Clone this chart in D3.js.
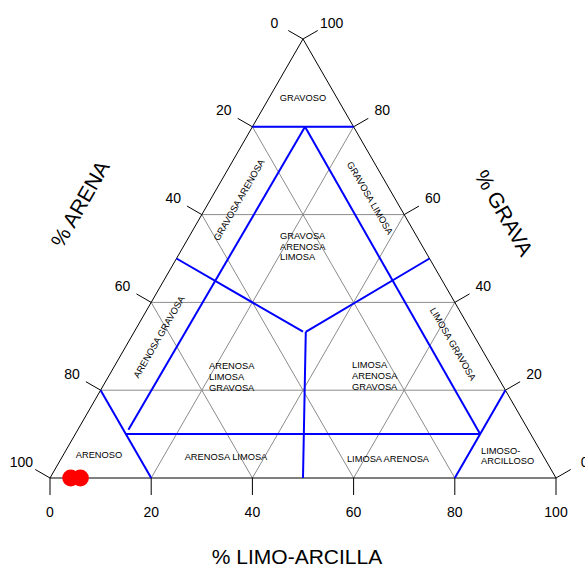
<!DOCTYPE html>
<html><head><meta charset="utf-8">
<script src="https://cdn.jsdelivr.net/npm/d3@7"></script>
<style>body{margin:0;background:#fff}svg{display:block}text{font-family:"Liberation Sans",Arial,Helvetica,sans-serif;fill:#000}</style>
</head><body><svg id="c" width="585" height="564"></svg>
<script>
// ---- data ----
const tickValues = [0, 20, 40, 60, 80, 100];
const gridLevels = [20, 40, 60, 80];
// classification boundaries, points as [arena, grava, limo-arcilla]
const boundaries = [
  [[20, 80, 0], [0, 80, 20]],
  [[80, 20, 0], [80, 0, 20]],
  [[0, 20, 80], [20, 0, 80]],
  [[80, 10, 10], [10, 10, 80]],
  [[79, 11, 10], [9.6, 80, 10.4]],
  [[9.6, 80, 10.4], [10, 10, 80]],
  [[50, 50, 0], [33.33, 33.33, 33.34]],
  [[32.8, 33.3, 33.9], [0, 50, 50]],
  [[32.8, 33.3, 33.9], [50, 0, 50]]
];
const samples = [[95.9, 0, 4.1], [94, 0, 6]];
const regionNames = {
  gravoso: ["GRAVOSO"], arenoso: ["ARENOSO"], limosoArc: ["LIMOSO-", "ARCILLOSO"],
  arenosaLimosa: ["ARENOSA LIMOSA"], limosaArenosa: ["LIMOSA ARENOSA"],
  alg: ["ARENOSA", "LIMOSA", "GRAVOSA"], lag: ["LIMOSA", "ARENOSA", "GRAVOSA"],
  gal: ["GRAVOSA", "ARENOSA", "LIMOSA"],
  gravArena: ["GRAVOSA ARENOSA"], gravLimosa: ["GRAVOSA LIMOSA"],
  arenGrav: ["ARENOSA GRAVOSA"], limGrav: ["LIMOSA GRAVOSA"]
};
const axisTitles = {bottom: "% LIMO-ARCILLA", left: "% ARENA", right: "% GRAVA"};

// ---- drawing ----
const svg = d3.select("#c");
const xScale = d3.scaleLinear().domain([0, 100]).range([50, 556]);
const gScale = d3.scaleLinear().domain([0, 100]).range([478, 39]);
const P = d => [xScale(d[2] + d[1] / 2), gScale(d[1])];
const line = d3.line().x(d => P(d)[0]).y(d => P(d)[1]);

// grid
const grid = svg.append("g").attr("stroke", "#8c8c8c").attr("stroke-width", 1).attr("fill", "none");
gridLevels.forEach(v => {
  grid.append("path").attr("d", line([[100 - v, v, 0], [0, v, 100 - v]]));
  grid.append("path").attr("d", line([[v, 100 - v, 0], [v, 0, 100 - v]]));
  grid.append("path").attr("d", line([[100 - v, 0, v], [0, 100 - v, v]]));
});

// triangle
svg.append("path").attr("d", line([[100, 0, 0], [0, 0, 100], [0, 100, 0]]) + "Z")
  .attr("fill", "none").attr("stroke", "#000").attr("stroke-width", 1);

// ticks and labels
const TL = 17, LD = 33;
const ax = svg.append("g").attr("stroke", "#000").attr("stroke-width", 1);
const tl = svg.append("g").attr("font-size", 14).attr("text-anchor", "middle");
tickValues.forEach(v => {
  // bottom (limo)
  let p = P([100 - v, 0, v]);
  ax.append("line").attr("x1", p[0]).attr("y1", p[1]).attr("x2", p[0]).attr("y2", p[1] + TL);
  tl.append("text").attr("x", p[0]).attr("y", p[1] + 39).text(v);
  // left (arena)
  p = P([v, 100 - v, 0]);
  ax.append("line").attr("x1", p[0]).attr("y1", p[1]).attr("x2", p[0] - TL * 0.866).attr("y2", p[1] - TL * 0.5);
  tl.append("text").attr("x", p[0] - LD * 0.866).attr("y", p[1] - LD * 0.5).attr("dy", "0.36em").text(v);
  // right (grava)
  p = P([0, v, 100 - v]);
  ax.append("line").attr("x1", p[0]).attr("y1", p[1]).attr("x2", p[0] + TL * 0.866).attr("y2", p[1] - TL * 0.5);
  tl.append("text").attr("x", p[0] + LD * 0.866).attr("y", p[1] - LD * 0.5).attr("dy", "0.36em").text(v);
});

// boundaries
svg.append("g").selectAll("path").data(boundaries).join("path")
  .attr("d", line).attr("fill", "none").attr("stroke", "#0000ff").attr("stroke-width", 2);

// region labels
const lab = svg.append("g").attr("font-size", 9.3);
function block(lines, x, y, anchor, lh) {
  const t = lab.append("text").attr("x", x).attr("y", y).attr("text-anchor", anchor);
  lines.forEach((s, i) => t.append("tspan").attr("x", x).attr("dy", i ? lh : 0).text(s));
}
block(regionNames.gravoso, 303, 101, "middle", 10);
block(regionNames.arenoso, 99, 458, "middle", 10);
block(regionNames.limosoArc, 481, 453.5, "start", 10);
block(regionNames.arenosaLimosa, 226, 460, "middle", 10);
block(regionNames.limosaArenosa, 388, 461.5, "middle", 10);
block(regionNames.alg, 209, 369, "start", 11);
block(regionNames.lag, 352, 368, "start", 11);
block(regionNames.gal, 280, 239, "start", 10.5);
function rot(lines, x, y, a) {
  lab.append("text").attr("transform", `translate(${x},${y}) rotate(${a})`)
    .attr("text-anchor", "middle").attr("dy", "0.35em").text(lines[0]);
}
rot(regionNames.gravArena, 239, 200, -60);
rot(regionNames.gravLimosa, 370, 198, 60);
rot(regionNames.arenGrav, 159, 337, -60);
rot(regionNames.limGrav, 453, 344, 60);

// axis titles
svg.append("text").attr("x", 297).attr("y", 564).attr("text-anchor", "middle").attr("font-size", 21).text(axisTitles.bottom);
svg.append("text").attr("transform", "translate(80,204) rotate(-60)").attr("text-anchor", "middle").attr("dy", "0.35em").attr("font-size", 21).text(axisTitles.left);
svg.append("text").attr("transform", "translate(504,213) rotate(60)").attr("text-anchor", "middle").attr("dy", "0.35em").attr("font-size", 21).text(axisTitles.right);

// samples
svg.append("g").selectAll("circle").data(samples).join("circle")
  .attr("cx", d => P(d)[0]).attr("cy", d => P(d)[1]).attr("r", 8.5).attr("fill", "#ff0000");
</script></body></html>
